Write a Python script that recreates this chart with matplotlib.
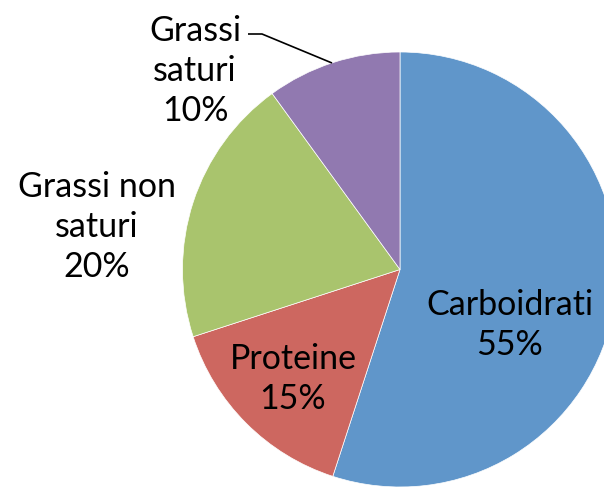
import matplotlib.pyplot as plt
import numpy as np

# pie data, clockwise from the top
categories = ["Carboidrati", "Proteine", "Grassi non\nsaturi", "Grassi\nsaturi"]
values = [55, 15, 20, 10]
colors = ["#6096CA", "#CD6760", "#A9C46D", "#9179B0"]

# label centres in pixel coords (y measured from top)
label_pos = [(510, 325), (293, 379), (97, 227), (195, 71)]

W, H = 604, 488
fig = plt.figure(figsize=(W/100, H/100), dpi=100)
ax = fig.add_axes([0, 0, 1, 1])

cx, cy, r = 400, H - 269.5, 217.5
ax.pie(values, colors=colors, startangle=90, counterclock=False,
       center=(cx, cy), radius=r, frame=True,
       wedgeprops=dict(edgecolor='white', linewidth=0.5))
ax.set_xlim(0, W)
ax.set_ylim(0, H)
ax.set_aspect('equal')
ax.axis('off')

total = float(sum(values))
for name, v, (px, py) in zip(categories, values, label_pos):
    txt = "%s\n%d%%" % (name, round(100*v/total))
    ax.text(px, H - py, txt, ha='center', va='center', multialignment='center',
            fontsize=24.5, family=['Lato', 'DejaVu Sans'], linespacing=1.31,
            color='black')

# leader line for the small slice
ax.plot([248, 262, 332], [H - 34, H - 34, H - 63], color='black', lw=1.2,
        solid_capstyle='butt')

fig.savefig("out.png", dpi=100)
